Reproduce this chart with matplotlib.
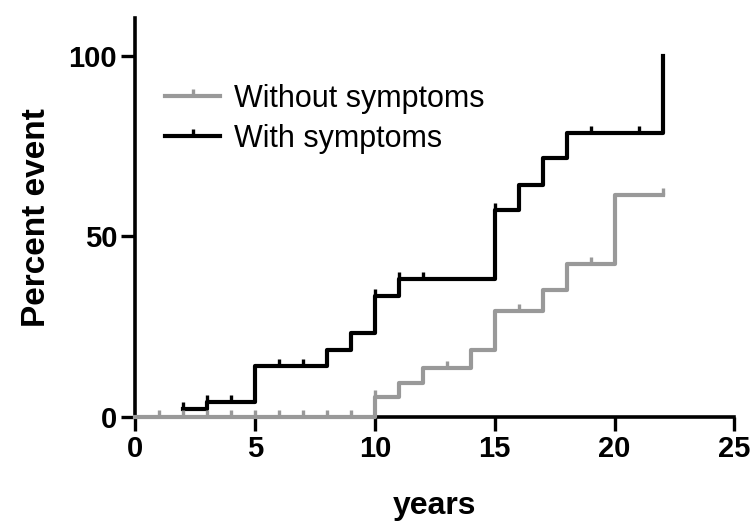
import numpy as np
import matplotlib
matplotlib.use("Agg")
import matplotlib.pyplot as plt
from matplotlib.lines import Line2D

plt.rcParams['font.family'] = ['Liberation Sans', 'DejaVu Sans']

# step times (years) and cumulative percent event
without_t = [0, 10, 11, 12, 14, 15, 17, 18, 20, 22]
without_y = [0, 5.6, 9.3, 13.5, 18.6, 29.3, 35.3, 42.3, 61.4, 61.4]
without_censor = [1, 2, 3, 4, 5, 6, 7, 8, 9, 10, 13, 16, 19, 22]

with_t = [2, 3, 5, 8, 9, 10, 11, 15, 16, 17, 18, 22]
with_y = [2.3, 4.2, 14.0, 18.6, 23.3, 33.5, 38.1, 57.2, 64.2, 71.6, 78.5, 100]
with_censor = [2, 3, 4, 6, 7, 10, 11, 12, 15, 19, 21]

labels = ["Without symptoms", "With symptoms"]
gray = "#999999"


def step_value(ts, ys, t):
    i = np.searchsorted(ts, t, side='right') - 1
    return ys[i]


fig = plt.figure(figsize=(7.51, 5.26), dpi=100)
ax = fig.add_axes([0.18, 0.2072, 0.798, 0.7588])

ax.step(with_t, with_y, where='post', color='black', lw=3.0, zorder=3, clip_on=False)
cy = [step_value(with_t[:-1], with_y[:-1], t) for t in with_censor]
ax.plot(with_censor, cy, ls='none', marker=2, ms=5, mew=2.4, color='black', zorder=3, clip_on=False)

ax.step(without_t, without_y, where='post', color=gray, lw=3.0, zorder=4, clip_on=False)
gy = [step_value(without_t, without_y, t) for t in without_censor]
ax.plot(without_censor, gy, ls='none', marker=2, ms=5, mew=2.4, color=gray, zorder=4, clip_on=False)

ax.set_xlim(0, 25)
ax.set_ylim(0, 110.5)
ax.set_xticks([0, 5, 10, 15, 20, 25])
ax.set_yticks([0, 50, 100])
for s in ['top', 'right']:
    ax.spines[s].set_visible(False)
for s in ['left', 'bottom']:
    ax.spines[s].set_linewidth(2.6)
ax.tick_params(width=2.4, length=10, labelsize=21, pad=3)
for lab in ax.get_xticklabels() + ax.get_yticklabels():
    lab.set_fontweight('bold')

ax.set_xlabel("years", fontsize=23, fontweight='bold', labelpad=20)
ax.set_ylabel("Percent event", fontsize=24, fontweight='bold', labelpad=12)

handles = [
    Line2D([], [], color=gray, lw=3.0, marker=2, ms=5, mew=2.4),
    Line2D([], [], color='black', lw=3.0, marker=2, ms=5, mew=2.4),
]
leg = ax.legend(handles, labels, loc='upper left', bbox_to_anchor=(0.03, 0.865),
                frameon=False, fontsize=22, handlelength=1.8, handletextpad=0.45,
                labelspacing=0.33, numpoints=1, borderaxespad=0)

fig.savefig("out.png", dpi=100)
